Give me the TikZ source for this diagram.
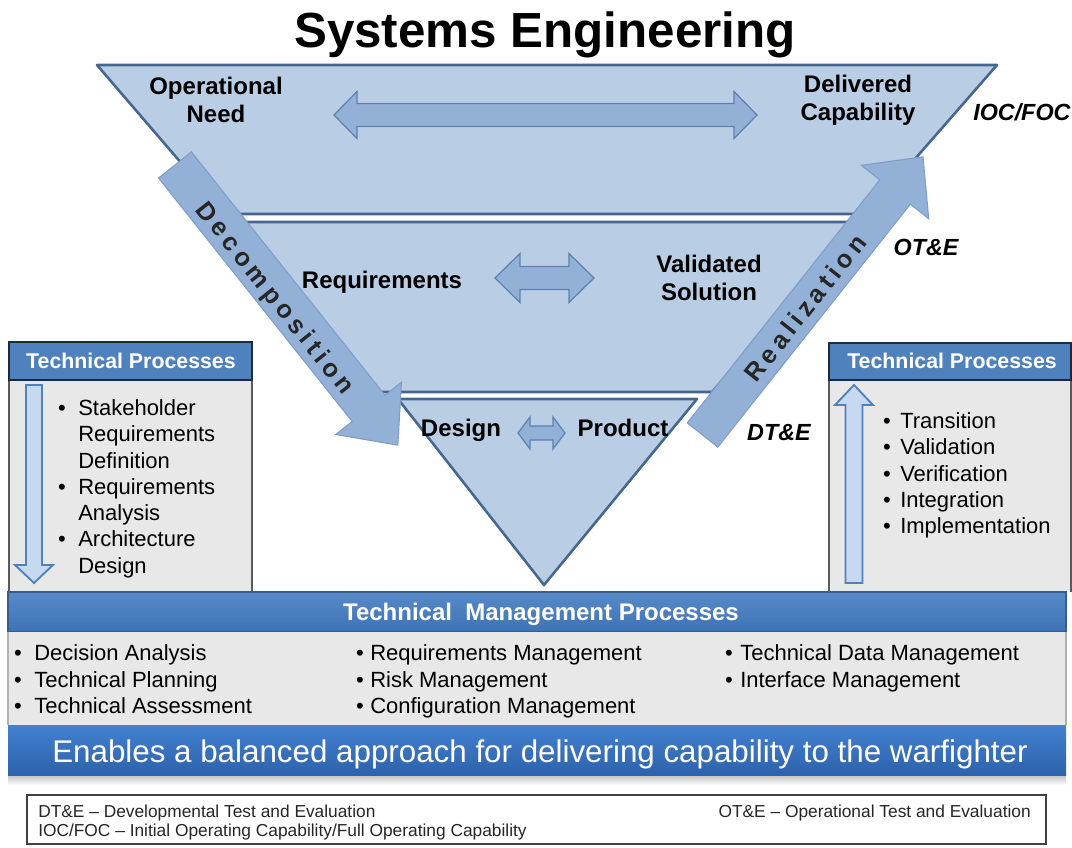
\documentclass[tikz,border=0pt]{standalone}
\usepackage{fontspec}
\setmainfont{Liberation Sans}
\definecolor{triFill}{HTML}{B9CDE5}
\definecolor{triLine}{HTML}{44668F}
\definecolor{arrFill}{HTML}{93B1D7}
\definecolor{arrLine}{HTML}{7E9DC8}
\definecolor{dblLine}{HTML}{5E80B0}
\definecolor{hdrBlue}{HTML}{4F81BD}
\definecolor{hdrLine}{HTML}{1F2A38}
\definecolor{bodyGray}{HTML}{E8E8E8}
\definecolor{boxLine}{HTML}{5A5A5A}
\definecolor{vaFill}{HTML}{C6D9F1}
\definecolor{vaLine}{HTML}{4F81BD}
\definecolor{mgTop}{HTML}{568AC9}
\definecolor{mgBot}{HTML}{3F72B4}
\definecolor{mgLine}{HTML}{385D8A}
\definecolor{enTop}{HTML}{4381CF}
\definecolor{enBot}{HTML}{2D62AC}
\newcommand{\blockarrow}[8]{%
  \begin{scope}[shift={(#2,#3)},rotate=#4]
    \path[#1] (0,-#6) -- ({#5-#8},-#6) -- ({#5-#8},-#7) -- (#5,0)
      -- ({#5-#8},#7) -- ({#5-#8},#6) -- (0,#6) -- cycle;
  \end{scope}}
\newcommand{\dblarrow}[7]{%
  \path[#1] (#2,#4) -- ({#2+#7},{#4-#6}) -- ({#2+#7},{#4-#5}) -- ({#3-#7},{#4-#5})
    -- ({#3-#7},{#4-#6}) -- (#3,#4) -- ({#3-#7},{#4+#6}) -- ({#3-#7},{#4+#5})
    -- ({#2+#7},{#4+#5}) -- ({#2+#7},{#4+#6}) -- cycle;}
\begin{document}
\begin{tikzpicture}[x=0.75pt,y=-0.75pt,
  band/.style={fill=triFill, draw=triLine, line width=1.9pt, line join=round},
  bigarrow/.style={fill=arrFill, draw=arrLine, line width=0.8pt},
  dbl/.style={fill=arrFill, draw=dblLine, line width=0.9pt},
  varrow/.style={fill=vaFill, draw=vaLine, line width=1.4pt},
  lbl/.style={font=\fontsize{18pt}{21pt}\selectfont\bfseries, align=center, inner sep=0pt},
  tag/.style={font=\fontsize{17.5pt}{21pt}\selectfont\bfseries\itshape, inner sep=0pt, anchor=base},
  item/.style={font=\fontsize{16.5pt}{19.7pt}\selectfont, inner sep=0pt, anchor=base west},
  bul/.style={font=\fontsize{16.5pt}{19.7pt}\selectfont, inner sep=0pt, anchor=base},
  hdr/.style={font=\fontsize{16pt}{19pt}\selectfont\bfseries, text=white, inner sep=0pt},
  arrtext/.style={font=\fontsize{19pt}{22pt}\selectfont\bfseries, inner sep=0pt, text=black!85},
  legend/.style={font=\fontsize{13pt}{16pt}\selectfont, inner sep=0pt, anchor=base west, text=black!85}]
\useasboundingbox (0,0) rectangle (1072,848);
\fill[white] (0,0) rectangle (1072,848);

% title
\node[font=\fontsize{37pt}{44pt}\selectfont\bfseries, anchor=base, inner sep=0pt] (title) at (545,48) {Systems Engineering};

% triangle bands
\path[band] (97,65) -- (997,65) -- (867,214) -- (225,214) -- cycle;
\path[band] (232,222) -- (860,222) -- (712,392) -- (378,392) -- cycle;
\path[band] (398,399) -- (697,399) -- (544,585) -- cycle;

% horizontal double arrows
\dblarrow{dbl}{334}{757}{115}{11.5}{23.5}{23}
\dblarrow{dbl}{495}{594}{278}{11.5}{24.5}{25}
\dblarrow{dbl}{518}{565}{433}{7}{16}{12}

% labels in triangle
\node[lbl] (opneed) at (216,100) {Operational\\Need};
\node[lbl] (delcap) at (858,100) {Delivered\\Capability};
\node[lbl, anchor=base] (req) at (382,288.5) {Requirements};
\node[lbl] (valsol) at (709,278) {Validated\\Solution};
\node[lbl, anchor=base] (design) at (461,436.5) {Design};
\node[lbl, anchor=base] (product) at (623,436.5) {Product};

% tags
\node[tag, anchor=base west] (iocfoc) at (973,121) {IOC/FOC};
\node[tag] (ote) at (926,256) {OT\&E};
\node[tag] (dte) at (779,441) {DT\&E};

% decomposition / realization arrows
\blockarrow{bigarrow}{175}{165}{-51.5}{358}{21}{42}{47}
\blockarrow{bigarrow}{702.5}{435}{51.6}{355}{19.5}{43}{45}
\node[arrtext, rotate=-51.5] (decomp) at (274,299) {\addfontfeatures{LetterSpace=18}Decomposition};
\node[arrtext, rotate=51.6] (realiz) at (805,308) {\addfontfeatures{LetterSpace=18}Realization};

% left technical processes box
\fill[bodyGray] (9,380) rectangle (252,592);
\draw[boxLine, line width=1pt] (9,592) -- (9,380) -- (252,380) -- (252,592);
\filldraw[fill=hdrBlue, draw=hdrLine, line width=1.3pt] (9,342) rectangle (252,380);
\node[hdr] (lhdr) at (131,361) {Technical Processes};
\blockarrow{varrow}{34}{385}{-90}{198}{8}{19}{18}
\node[bul] (lb1) at (62,415.5) {•};
\node[item] (li1) at (78,415.5) {Stakeholder};
\node[item] (li2) at (78,441.8) {Requirements};
\node[item] (li3) at (78,468.1) {Definition};
\node[bul] (lb2) at (62,494.4) {•};
\node[item] (li4) at (78,494.4) {Requirements};
\node[item] (li5) at (78,520.7) {Analysis};
\node[bul] (lb3) at (62,547) {•};
\node[item] (li6) at (78,547) {Architecture};
\node[item] (li7) at (78,573.3) {Design};

% right technical processes box
\fill[bodyGray] (829,380) rectangle (1071,592);
\draw[boxLine, line width=1pt] (829,592) -- (829,380) -- (1071,380) -- (1071,592);
\filldraw[fill=hdrBlue, draw=hdrLine, line width=1.3pt] (829,343) rectangle (1071,380);
\node[hdr] (rhdr) at (952,361) {Technical Processes};
\blockarrow{varrow}{854}{583}{90}{198}{8.5}{19}{20}
\node[bul] (rb1) at (887,428.5) {•};
\node[item] (ri1) at (900,428.5) {Transition};
\node[bul] (rb2) at (887,454.8) {•};
\node[item] (ri2) at (900,454.8) {Validation};
\node[bul] (rb3) at (887,481.1) {•};
\node[item] (ri3) at (900,481.1) {Verification};
\node[bul] (rb4) at (887,507.4) {•};
\node[item] (ri4) at (900,507.4) {Integration};
\node[bul] (rb5) at (887,533.7) {•};
\node[item] (ri5) at (900,533.7) {Implementation};

% technical management processes
\shade[top color=mgTop, bottom color=mgBot] (8,592) rectangle (1066,632);
\draw[mgLine, line width=1.2pt] (8,592) rectangle (1066,632);
\node[font=\fontsize{18pt}{21pt}\selectfont\bfseries, text=white, anchor=base, inner sep=0pt] (mghdr) at (541,620) {Technical\ \ Management Processes};
\fill[bodyGray] (8,632) rectangle (1066,725);
\draw[black!30, line width=0.8pt] (8,632) -- (8,725) (1066,632) -- (1066,725);
\node[bul] (mb1) at (18,660) {•};
\node[item] (mi1) at (34,660) {Decision Analysis};
\node[bul] (mb2) at (18,687) {•};
\node[item] (mi2) at (34,687) {Technical Planning};
\node[bul] (mb3) at (18,713) {•};
\node[item] (mi3) at (34,713) {Technical Assessment};
\node[bul] (mb4) at (360,660) {•};
\node[item] (mi4) at (370,660) {Requirements Management};
\node[bul] (mb5) at (360,687) {•};
\node[item] (mi5) at (370,687) {Risk Management};
\node[bul] (mb6) at (360,713) {•};
\node[item] (mi6) at (370,713) {Configuration Management};
\node[bul] (mb7) at (729,660) {•};
\node[item] (mi7) at (740,660) {Technical Data Management};
\node[bul] (mb8) at (729,687) {•};
\node[item] (mi8) at (740,687) {Interface Management};

% enables band
\shade[top color=black!25, bottom color=white] (8,775) rectangle (1066,785);
\shade[top color=enTop, bottom color=enBot] (8,725) rectangle (1066,775);
\node[font=\fontsize{23.5pt}{28pt}\selectfont, text=white, anchor=base, inner sep=0pt] (enables) at (540,762) {Enables a balanced approach for delivering capability to the warfighter};

% legend
\draw[black!75, line width=0.8pt, fill=white] (27,795) rectangle (1046,844);
\node[legend] (lg1) at (38,817) {DT\&E – Developmental Test and Evaluation};
\node[legend] (lg2) at (38,836) {IOC/FOC – Initial Operating Capability/Full Operating Capability};
\node[legend, anchor=base east] (lg3) at (1031,817) {OT\&E – Operational Test and Evaluation};
\end{tikzpicture}
\end{document}
